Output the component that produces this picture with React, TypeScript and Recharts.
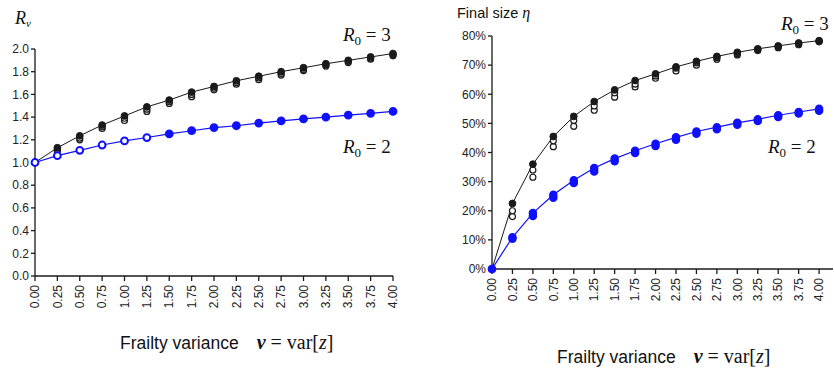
import React from "react";
import { LineChart, Line, XAxis, YAxis } from "recharts";

// frailty variance grid (x axis of both panels)
const FRAILTY = [0, 0.25, 0.5, 0.75, 1, 1.25, 1.5, 1.75, 2, 2.25, 2.5, 2.75, 3, 3.25, 3.5, 3.75, 4];

// left panel: R_v
const RV_TICKS = [0, 0.2, 0.4, 0.6, 0.8, 1.0, 1.2, 1.4, 1.6, 1.8, 2.0];
const RV_R3 = [1.0, 1.13, 1.235, 1.33, 1.41, 1.49, 1.55, 1.62, 1.67, 1.72, 1.76, 1.8, 1.835, 1.87, 1.9, 1.93, 1.96];
const RV_R3_MID = [1.0, 1.115, 1.215, 1.315, 1.39, 1.47, 1.535, 1.6, 1.655, 1.705, 1.745, 1.785, 1.82, 1.86, 1.89, 1.92, 1.95];
const RV_R3_LOW = [1.0, 1.1, 1.2, 1.3, 1.37, 1.45, 1.52, 1.58, 1.64, 1.69, 1.73, 1.77, 1.81, 1.85, 1.88, 1.91, 1.94];
const RV_R2 = [1.0, 1.06, 1.107, 1.154, 1.19, 1.22, 1.253, 1.28, 1.308, 1.324, 1.347, 1.366, 1.384, 1.4, 1.418, 1.433, 1.45];

// right panel: final size eta (%)
const ETA_TICKS = [0, 10, 20, 30, 40, 50, 60, 70, 80];
const ETA_R3 = [0, 22.5, 36, 45.5, 52.4, 57.5, 61.5, 64.7, 67, 69.4, 71.3, 73, 74.4, 75.6, 76.6, 77.6, 78.4];
const ETA_R3_MID = [0, 20, 34, 44, 51, 56, 60.5, 63.5, 66.3, 69, 70.8, 72.6, 74, 75.3, 76.3, 77.3, 78.2];
const ETA_R3_LOW = [0, 18, 31.5, 42, 49, 54.5, 59, 62.5, 65.5, 68, 70, 72, 73.5, 75, 76, 77, 78];
const ETA_R2 = [0, 10.9, 19.2, 25.5, 30.5, 34.7, 37.9, 40.6, 43, 45.2, 47.2, 48.7, 50.2, 51.4, 52.8, 53.9, 55];
const ETA_R2_LOW = [0, 10.4, 18.2, 24.5, 29.5, 33.5, 37, 39.8, 42.2, 44.4, 46.4, 48, 49.5, 50.8, 52.2, 53.4, 54.3];

const BLACK = "#1a1a1a";
const BLUE = "#1010ff";
const AXIS = "#1a1a1a";
const SANS = "'Liberation Sans', Arial, sans-serif";
const SERIF = "'Liberation Serif', 'Times New Roman', serif";

const rvData = FRAILTY.map((v, i) => ({ v, hi: RV_R3[i], mid: RV_R3_MID[i], lo: RV_R3_LOW[i], b: RV_R2[i] }));
const etaData = FRAILTY.map((v, i) => ({
  v,
  hi: ETA_R3[i],
  mid: ETA_R3_MID[i],
  lo: ETA_R3_LOW[i],
  b: ETA_R2[i],
  bLo: ETA_R2_LOW[i],
}));

function RotatedTick(props: any) {
  const { x, y, payload } = props;
  return (
    <text
      transform={`translate(${x},${y + 2}) rotate(-90)`}
      textAnchor="end"
      dy="0.35em"
      fontSize={12}
      fontFamily={SANS}
      fill="#222"
    >
      {Number(payload.value).toFixed(2)}
    </text>
  );
}

const hollowDot = { r: 3, fill: "#fff", stroke: BLACK, strokeWidth: 1.2 };
const filledDot = { r: 3.4, fill: BLACK, stroke: BLACK, strokeWidth: 1 };
const blueFilled = { r: 3.5, fill: BLUE, stroke: BLUE, strokeWidth: 1.5 };

function blueLeftDot(p: any) {
  return (
    <circle
      key={`b${p.index}`}
      cx={p.cx}
      cy={p.cy}
      r={3.4}
      fill={p.index < 6 ? "#fff" : BLUE}
      stroke={BLUE}
      strokeWidth={2}
    />
  );
}

const yTick = { fontSize: 12, fontFamily: SANS, fill: "#222" };
const axisLine = { stroke: AXIS, strokeWidth: 1.3 };

function R0({ x, y, n }: { x: number; y: number; n: number }) {
  return (
    <text x={x} y={y} fontFamily={SERIF} fontSize={19} fill="#111">
      <tspan fontStyle="italic">R</tspan>
      <tspan fontSize={13} dy={4}>0</tspan>
      <tspan dy={-4}>{` = ${n}`}</tspan>
    </text>
  );
}

function XLabel({ x, y }: { x: number; y: number }) {
  return (
    <text x={x} y={y} fill="#111">
      <tspan fontFamily={SANS} fontSize={17.5}>Frailty variance</tspan>
      <tspan fontFamily={SERIF} fontSize={20} dx={18} fontStyle="italic" fontWeight="bold">ν</tspan>
      <tspan fontFamily={SERIF} fontSize={20}> = var[</tspan>
      <tspan fontFamily={SERIF} fontSize={20} fontStyle="italic">z</tspan>
      <tspan fontFamily={SERIF} fontSize={20}>]</tspan>
    </text>
  );
}

export default function App() {
  return (
    <div style={{ position: "absolute", left: 0, top: 0, width: 834, height: 371, background: "#fff" }}>
      <div style={{ position: "absolute", left: 0, top: 0 }}>
        <LineChart width={420} height={371} data={rvData} margin={{ top: 49, right: 27, bottom: 65, left: 5 }}>
          <XAxis
            dataKey="v"
            type="number"
            domain={[0, 4]}
            ticks={FRAILTY}
            interval={0}
            tick={<RotatedTick />}
            tickSize={5}
            axisLine={axisLine}
            tickLine={axisLine}
          />
          <YAxis
            type="number"
            domain={[0, 2]}
            ticks={RV_TICKS}
            width={30}
            tickSize={4}
            tickFormatter={(t: number) => t.toFixed(1)}
            tick={yTick}
            axisLine={axisLine}
            tickLine={axisLine}
          />
          <Line dataKey="lo" stroke="none" dot={hollowDot} isAnimationActive={false} />
          <Line dataKey="mid" stroke="none" dot={hollowDot} isAnimationActive={false} />
          <Line dataKey="hi" stroke={BLACK} strokeWidth={1} dot={filledDot} isAnimationActive={false} />
          <Line dataKey="b" stroke={BLUE} strokeWidth={1.2} dot={blueLeftDot} isAnimationActive={false} />
        </LineChart>
      </div>
      <div style={{ position: "absolute", left: 420, top: 0 }}>
        <LineChart width={414} height={371} data={etaData} margin={{ top: 36, right: 1, bottom: 72, left: 32 }}>
          <XAxis
            dataKey="v"
            type="number"
            domain={[0, 4.17]}
            ticks={FRAILTY}
            interval={0}
            tick={<RotatedTick />}
            tickSize={5}
            axisLine={axisLine}
            tickLine={axisLine}
          />
          <YAxis
            type="number"
            domain={[0, 80]}
            ticks={ETA_TICKS}
            width={40}
            tickSize={4}
            tickFormatter={(t: number) => `${t}%`}
            tick={yTick}
            axisLine={axisLine}
            tickLine={axisLine}
          />
          <Line dataKey="lo" stroke="none" dot={hollowDot} isAnimationActive={false} />
          <Line dataKey="mid" stroke="none" dot={hollowDot} isAnimationActive={false} />
          <Line dataKey="hi" stroke={BLACK} strokeWidth={1} dot={filledDot} isAnimationActive={false} />
          <Line dataKey="bLo" stroke="none" dot={blueFilled} isAnimationActive={false} />
          <Line dataKey="b" stroke={BLUE} strokeWidth={1.2} dot={blueFilled} isAnimationActive={false} />
        </LineChart>
      </div>
      <svg
        width={834}
        height={371}
        style={{ position: "absolute", left: 0, top: 0, pointerEvents: "none" }}
      >
        <text x={15} y={24} fontFamily={SERIF} fontSize={18} fill="#111">
          <tspan fontStyle="italic">R</tspan>
          <tspan fontSize={11} dy={3} fontStyle="italic">ν</tspan>
        </text>
        <R0 x={343} y={41} n={3} />
        <R0 x={343} y={153} n={2} />
        <XLabel x={120} y={349} />

        <text x={457} y={18} fill="#111">
          <tspan fontFamily={SANS} fontSize={14.5}>Final size </tspan>
          <tspan fontFamily={SERIF} fontSize={16} fontStyle="italic">η</tspan>
        </text>
        <R0 x={781} y={30} n={3} />
        <R0 x={768} y={153} n={2} />
        <XLabel x={557} y={363} />
      </svg>
    </div>
  );
}
